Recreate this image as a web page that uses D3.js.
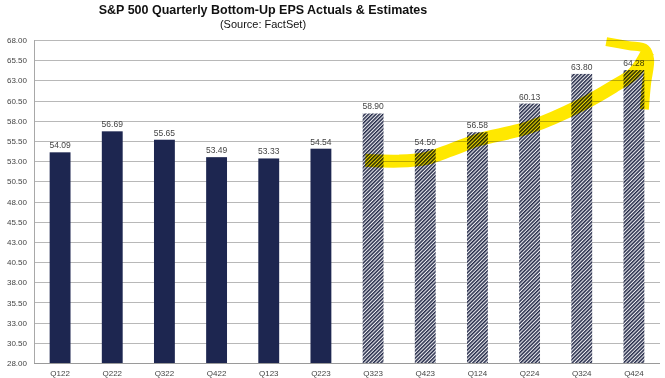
<!DOCTYPE html>
<html><head><meta charset="utf-8">
<script src="https://cdn.jsdelivr.net/npm/d3@7"></script>
<style>body{margin:0;background:#fff}svg{display:block;font-family:"Liberation Sans",Arial,sans-serif}</style>
</head><body><svg id="c" width="665" height="378"></svg>
<script>
const categories = ["Q122","Q222","Q322","Q422","Q123","Q223","Q323","Q423","Q124","Q224","Q324","Q424"];
const values = [54.09,56.69,55.65,53.49,53.33,54.54,58.90,54.50,56.58,60.13,63.80,64.28];
const isEstimate = [false,false,false,false,false,false,true,true,true,true,true,true];
const yTicks = d3.range(28, 68.001, 2.5);
// highlighter annotation in data space: [category index, value]
const arrowShaft = [[5.85,53.1],[6.5,53.0],[7.0,53.3],[7.5,54.4],[8.0,55.6],[9.0,57.2],[10.0,60.0],[10.6,62.2],[11.0,63.9],[11.27,66.6]];
const arrowHead = [[10.47,67.8],[10.9,67.3],[11.22,66.9],[11.3,65.6],[11.24,62.5],[11.2,59.4]];

(function(){
const svg = d3.select("#c");
const pLeft = 34, pRight = 660, pTop = 40, pBottom = 363;
const x = d3.scaleBand().domain(categories).range([pLeft, pRight]).paddingInner(0.6).paddingOuter(0.3);
const y = d3.scaleLinear().domain([28, 68]).range([pBottom, pTop]);

const defs = svg.append("defs");
const pat = defs.append("pattern").attr("id","hatch").attr("patternUnits","userSpaceOnUse")
  .attr("width",2.6).attr("height",2.6).attr("patternTransform","rotate(45)");
pat.append("rect").attr("width",2.6).attr("height",2.6).attr("fill","#eeeef2");
pat.append("rect").attr("width",1.5).attr("height",2.6).attr("fill","#262c4a");

svg.append("text").attr("x",263).attr("y",14).attr("text-anchor","middle")
  .attr("font-size",12.5).attr("font-weight","bold").attr("fill","#111")
  .text("S&P 500 Quarterly Bottom-Up EPS Actuals & Estimates");
svg.append("text").attr("x",263).attr("y",28).attr("text-anchor","middle")
  .attr("font-size",11).attr("fill","#111").text("(Source: FactSet)");

svg.append("g").selectAll("line").data(yTicks).join("line")
  .attr("x1",pLeft).attr("x2",pRight).attr("y1",d=>Math.round(y(d))+0.5).attr("y2",d=>Math.round(y(d))+0.5)
  .attr("stroke",d=>d===28?"#9a9a9a":"#b8b8b8").attr("stroke-width",1);
svg.append("line").attr("x1",pLeft+0.5).attr("x2",pLeft+0.5).attr("y1",pTop).attr("y2",pBottom)
  .attr("stroke","#a8a8a8");

const yAxis = d3.axisLeft(y).tickValues(yTicks).tickFormat(d3.format(".2f")).tickSize(0).tickPadding(7);
const gy = svg.append("g").attr("transform",`translate(${pLeft},0)`).call(yAxis);
gy.select(".domain").remove();
gy.selectAll("text").attr("font-size",8).attr("fill","#444").attr("font-family","Liberation Sans, Arial, sans-serif");

const xAxis = d3.axisBottom(x).tickSize(0).tickPadding(7);
const gx = svg.append("g").attr("transform",`translate(0,${pBottom})`).call(xAxis);
gx.select(".domain").remove();
gx.selectAll("text").attr("font-size",8).attr("fill","#444").attr("font-family","Liberation Sans, Arial, sans-serif");

svg.append("g").selectAll("rect").data(categories).join("rect")
  .attr("x",d=>x(d)).attr("width",x.bandwidth())
  .attr("y",(d,i)=>y(values[i])).attr("height",(d,i)=>y(28)-y(values[i]))
  .attr("fill",(d,i)=>isEstimate[i]?"url(#hatch)":"#1d2650");

svg.append("g").selectAll("text").data(categories).join("text")
  .attr("x",d=>x(d)+x.bandwidth()/2).attr("y",(d,i)=>y(values[i])-4)
  .attr("text-anchor","middle").attr("font-size",8.5).attr("fill","#444")
  .text((d,i)=>values[i].toFixed(2));

const step = x.step(), x0 = x(categories[0]) + x.bandwidth()/2;
const line = d3.line().x(d=>x0 + d[0]*step).y(d=>y(d[1])).curve(d3.curveCatmullRom.alpha(0.5));
const ag = svg.append("g").style("mix-blend-mode","multiply");
ag.append("path").attr("d",line(arrowShaft)).attr("fill","none").attr("stroke","#ffe800")
  .attr("stroke-width",13).attr("stroke-linecap","butt").attr("stroke-linejoin","round");
ag.append("path").attr("d",line(arrowHead)).attr("fill","none").attr("stroke","#ffe800")
  .attr("stroke-width",9).attr("stroke-linecap","butt").attr("stroke-linejoin","round");
})();
</script></body></html>
